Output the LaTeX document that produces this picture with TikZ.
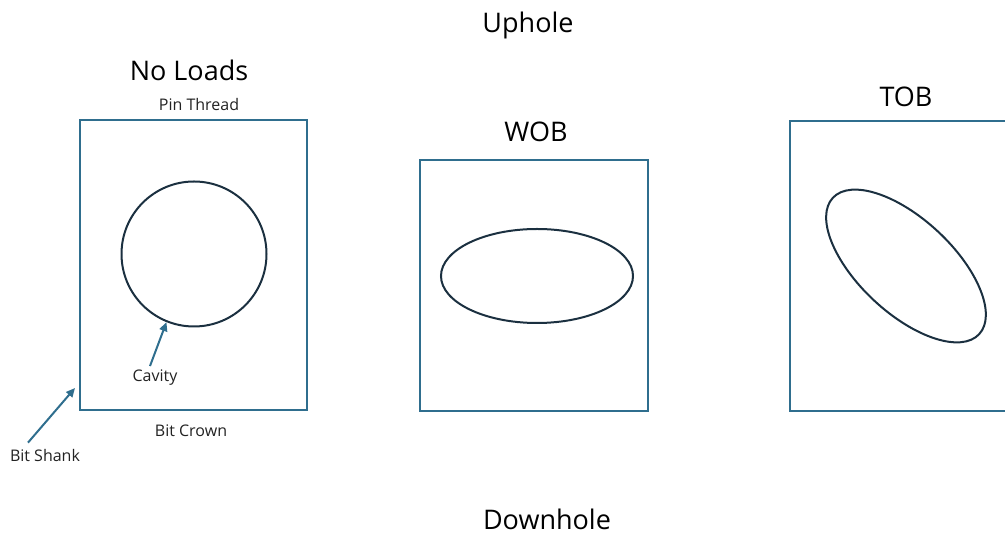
\documentclass[tikz,border=0pt]{standalone}
\usepackage{fontspec}
\setmainfont{Open Sans}
\usetikzlibrary{shapes.geometric,arrows.meta}
\definecolor{frameblue}{HTML}{2F6E8E}
\definecolor{shapeink}{HTML}{1B3040}
\definecolor{labelgray}{HTML}{222222}
\tikzset{
  bitbox/.style={draw=frameblue, line width=2pt, rectangle, inner sep=0pt},
  cavityshape/.style={draw=shapeink, line width=2pt, inner sep=0pt},
  heading/.style={text=black, font=\fontsize{27}{31}\selectfont, inner sep=0pt, anchor=base},
  smalllabel/.style={text=labelgray, font=\fontsize{16}{19}\selectfont, inner sep=0pt, anchor=base},
  pointer/.style={draw=frameblue, line width=2pt, -{Triangle[length=9pt,width=8pt]}}
}
\begin{document}
\begin{tikzpicture}[x=1pt,y=1pt]
\useasboundingbox (0,0) rectangle (1005,535);
\clip (0,0) rectangle (1005,535);

% position labels
\node[heading] (uphole) at (528,502) {Uphole};
\node[heading] (downhole) at (547,5.5) {Downhole};

% unloaded bit section
\node[heading] (noloads) at (189,454) {No Loads};
\node[bitbox, minimum width=227pt, minimum height=290pt] (boxA) at (193.5,270) {};
\node[smalllabel] (pin) at (199,424) {Pin Thread};
\node[smalllabel] (crown) at (191,98) {Bit Crown};
\node[cavityshape, circle, minimum size=145pt] (circ) at (194,281) {};
\node[smalllabel] (cavity) at (155,153) {Cavity};
\node[smalllabel] (shank) at (45,73) {Bit Shank};
\coordinate (shanktip) at (75,147);
\draw[pointer] ([xshift=-5pt,yshift=4pt]cavity.north) -- (circ.-112);
\draw[pointer] ([xshift=-17pt,yshift=7pt]shank.north) -- (shanktip);

% weight on bit
\node[heading] (wob) at (536,393) {WOB};
\node[bitbox, minimum width=228pt, minimum height=251pt] (boxB) at (534,249.5) {};
\node[cavityshape, ellipse, minimum width=192pt, minimum height=94pt] (ellB) at (537,259) {};

% torque on bit
\node[heading] (tob) at (906,428) {TOB};
\node[bitbox, minimum width=250pt, minimum height=290pt] (boxC) at (915,269) {};
\node[cavityshape, ellipse, minimum width=200pt, minimum height=94pt, rotate=-43] (ellC) at (906,269) {};
\end{tikzpicture}
\end{document}
